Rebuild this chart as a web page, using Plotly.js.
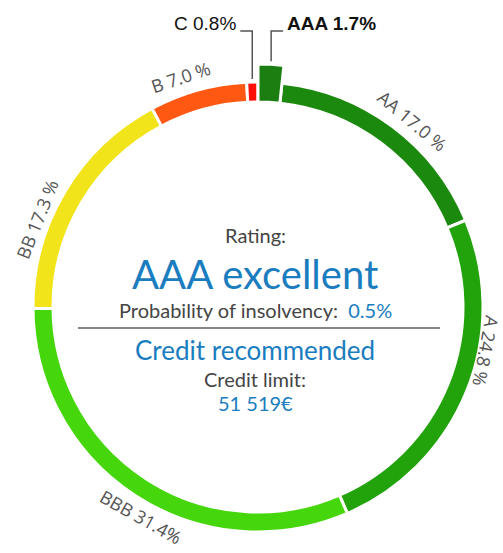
<!DOCTYPE html>
<html>
<head>
<meta charset="utf-8">
<script src="https://cdn.plot.ly/plotly-3.0.1.min.js"></script>
<style>html,body{margin:0;padding:0;background:#fff;}#chart{width:503px;height:553px;}</style>
</head>
<body>
<div id="chart"></div>
<script>
// ---- data ----
var ratings = ["AAA", "AA", "A", "BBB", "BB", "B", "C"];
var shares = [1.7, 17.0, 24.8, 31.4, 17.3, 7.0, 0.8];
var labelTexts = ["AAA 1.7%", "AA 17.0 %", "A 24.8 %", "BBB 31.4%", "BB 17.3 %", "B 7.0 %", "C 0.8%"];
var currentRating = "AAA";
var ratingText = "AAA excellent";
var insolvency = "0.5%";
var decision = "Credit recommended";
var creditLimit = "51 519€";

// ---- geometry / style ----
var sliceColors = ["#1a7f10", "#1b880e", "#22a20b", "#46d60c", "#f2e41a", "#ff5812", "#ff1008"];
var labelShift = [0, 3, -11, -4, -9, -3, 0];           // degrees, label placement tweak
var labelRadius = [0, 242, 232, 240, 238, 243, 0];     // px from centre
var W = 503, H = 553;
var CX = 258, CY = 307;       // centre in px from top-left
var R = 225, RIN = 205, RBIG = 243;
var BLUE = "#1a7dc0", GREY = "#444444";
var FONT = "Lato, 'Noto Sans', sans-serif";
var LFONT = "'Open Sans', 'Noto Sans', sans-serif";

function px(x) { return x / W; }
function py(y) { return 1 - y / H; }
function dom(r) {
  return { x: [px(CX - r), px(CX + r)], y: [py(CY + r), py(CY - r)] };
}

var total = shares.reduce(function (a, b) { return a + b; }, 0);
var mids = [], acc = 0;
shares.forEach(function (v) { mids.push((acc + v / 2) / total * 360); acc += v; });

var hiIdx = ratings.indexOf(currentRating);

var ring = {
  type: "pie", values: shares, labels: ratings, sort: false,
  direction: "clockwise", rotation: 0, hole: RIN / R,
  domain: dom(R), textinfo: "none", hoverinfo: "label+value",
  marker: { colors: sliceColors, line: { color: "#ffffff", width: 3 } },
  showlegend: false
};
var bigColors = sliceColors.map(function (c, i) { return i === hiIdx ? c : "rgba(0,0,0,0)"; });
var lineW = sliceColors.map(function (c, i) { return i === hiIdx ? 3 : 0; });
var hi = {
  type: "pie", values: shares, labels: ratings, sort: false,
  direction: "clockwise", rotation: 0, hole: RIN / RBIG,
  domain: dom(RBIG), textinfo: "none", hoverinfo: "skip",
  marker: { colors: bigColors, line: { color: "#ffffff", width: lineW } },
  showlegend: false
};

var annotations = [], shapes = [];
var rad = Math.PI / 180;
ratings.forEach(function (r, i) {
  if (shares[i] < 2) return; // small slices get leader lines
  var th = mids[i] + labelShift[i], rl = labelRadius[i];
  var x = CX + rl * Math.sin(th * rad), y = CY - rl * Math.cos(th * rad);
  var ang = th < 180 ? th : (th < 270 ? th - 180 : th - 360);
  annotations.push({
    x: px(x), y: py(y), xref: "paper", yref: "paper", showarrow: false,
    text: labelTexts[i], textangle: ang, xanchor: "center", yanchor: "middle",
    font: { family: LFONT, size: 18, color: "#555555" }
  });
});
// leader-line labels for small slices
var LY = 31;
ratings.forEach(function (r, i) {
  if (shares[i] >= 2) return;
  var th = mids[i];
  var rOut = (i === hiIdx ? RBIG : R) + 3;
  var x0 = CX + rOut * Math.sin(th * rad), y0 = CY - rOut * Math.cos(th * rad);
  var right = th < 180;
  var x1 = right ? x0 + 12 : x0 - 12;
  shapes.push({ type: "path", xref: "paper", yref: "paper",
    path: "M" + px(x0) + "," + py(y0) + " L" + px(x0) + "," + py(LY) + " L" + px(x1) + "," + py(LY),
    line: { color: "#555555", width: 1.5 } });
  annotations.push({
    x: px(right ? x1 + 2 : x1 - 2), y: py(LY - 7), xref: "paper", yref: "paper", showarrow: false,
    text: i === hiIdx ? "<b>" + labelTexts[i] + "</b>" : labelTexts[i],
    xanchor: right ? "left" : "right", yanchor: "middle",
    font: { family: "'Liberation Sans', Arial, sans-serif", size: 19, color: "#111111" }
  });
});

// centre texts
function centre(text, y, size, color) {
  annotations.push({ x: px(CX - 3), y: py(y), xref: "paper", yref: "paper", showarrow: false,
    text: text, xanchor: "center", yanchor: "middle",
    font: { family: FONT, size: size, color: color } });
}
centre("Rating:", 235, 20, GREY);
centre(ratingText, 274, 40, BLUE);
centre("Probability of insolvency:  <span style='color:" + BLUE + "'>" + insolvency + "</span>", 310, 20, GREY);
centre(decision, 350, 26, BLUE);
centre("Credit limit:", 379, 20, GREY);
centre(creditLimit, 403, 20, BLUE);
shapes.push({ type: "line", xref: "paper", yref: "paper",
  x0: px(78), x1: px(440), y0: py(328), y1: py(328), line: { color: "#111111", width: 1.2 } });

Plotly.newPlot("chart", [ring, hi], {
  width: W, height: H, margin: { l: 0, r: 0, t: 0, b: 0 },
  paper_bgcolor: "#ffffff", showlegend: false,
  annotations: annotations, shapes: shapes
}, { displayModeBar: false, staticPlot: true });
</script>
</body>
</html>
